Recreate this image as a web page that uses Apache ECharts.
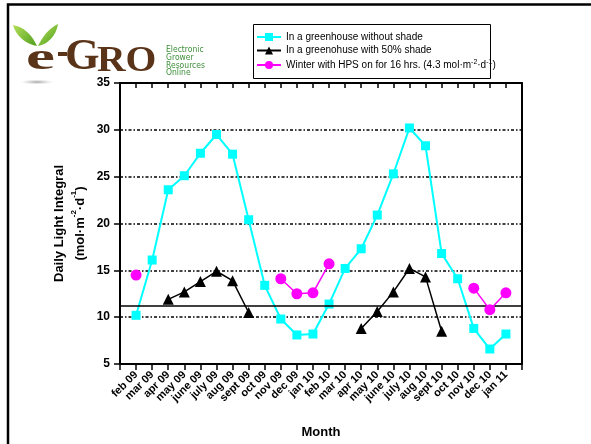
<!DOCTYPE html>
<html>
<head>
<meta charset="utf-8">
<script src="https://cdn.jsdelivr.net/npm/echarts@6/dist/echarts.min.js"></script>
<style>
html,body{margin:0;padding:0;background:#fff;}
#c{width:591px;height:444px;}
</style>
</head>
<body>
<div id="c"></div>
<script>
// ---- data ----
const months = ['feb 09','mar 09','apr 09','may 09','june 09','july 09','aug 09','sept 09','oct 09','nov 09','dec 09','jan 10',
                'feb 10','mar 10','apr 10','may 10','june 10','july 10','aug 10','sept 10','oct 10','nov 10','dec 10','jan 11'];
const noShade = [10.2,16.1,23.6,25.1,27.5,29.5,27.4,20.4,13.4,9.8,8.1,8.2,
                 11.4,15.2,17.3,20.9,25.3,30.2,28.3,16.8,14.1,8.8,6.6,8.2];
const shade50 = [null,null,11.9,12.7,13.8,14.9,13.9,10.5,null,null,null,null,
                 null,null,8.8,10.6,12.7,15.2,14.3,8.5,null,null,null,null];
const hps = [14.5,null,null,null,null,null,null,null,null,14.1,12.5,12.6,
             15.7,null,null,null,null,null,null,null,null,13.1,10.8,12.6];
const threshold = 11.2;
const yTicks = [5,10,15,20,25,30,35];
const seriesNames = ['In a greenhouse without shade','In a greenohuse with 50% shade','Winter with HPS on for 16 hrs. (4.3 mol m-2 d-1)'];

// ---- build ----
const cats = [''].concat(months).concat(['']);
const pad = arr => ['-'].concat(arr.map(v => v == null ? '-' : v)).concat(['-']);
const FF = 'Liberation Sans, Arial, sans-serif';
const chart = echarts.init(document.getElementById('c'), null, {renderer:'canvas'});

const brown = '#5a3418';
const leafGrad = {type:'linear', x:0, y:0, x2:1, y2:1, colorStops:[{offset:0,color:'#b4e05a'},{offset:1,color:'#4f9e1c'}]};

function bez(p0,p1,p2,p3,n){
  const out=[];
  for(let i=0;i<=n;i++){const t=i/n,u=1-t;
    out.push([u*u*u*p0[0]+3*u*u*t*p1[0]+3*u*t*t*p2[0]+t*t*t*p3[0], u*u*u*p0[1]+3*u*u*t*p1[1]+3*u*t*t*p2[1]+t*t*t*p3[1]]);}
  return out;
}
const leafL = bez([37,46],[31,33],[23,27],[13,25],16).concat(bez([13,25],[16,36],[26,44],[37,46],16));
const leafR = bez([38,46],[44,34],[50,28],[58,24],16).concat(bez([58,24],[56,36],[48,44],[38,46],16));

function logoText(txt, x, y, size, sx, sy){
  return {type:'text', x:x, y:y, scaleX:sx, scaleY:sy, originX:0, originY:-10,
    style:{text:txt, fontFamily:'Liberation Serif', fontSize:size, fontWeight:'bold', fill:brown,
           align:'left', verticalAlign:'bottom', textAlign:'left', textVerticalAlign:'bottom'}};
}
function greenText(txt, y){
  return {type:'text', x:166, y:y,
    style:{text:txt, font:'8.5px "Liberation Sans Narrow", "DejaVu Sans Condensed", "Liberation Sans", sans-serif',
           fill:'#3f8f3a', verticalAlign:'middle', textVerticalAlign:'middle'}};
}

chart.setOption({
  animation:false,
  backgroundColor:'#fff',
  grid:{left:120, right:69, top:83, bottom:78, containLabel:false},
  legend:{
    orient:'vertical', left:256, top:32, padding:0, itemWidth:24, itemHeight:10, itemGap:3.5,
    data:seriesNames,
    textStyle:{fontFamily:FF, fontSize:10, color:'#000',
      rich:{n:{fontFamily:FF, fontSize:10, color:'#000'}, s:{fontFamily:FF, fontSize:7, color:'#000', verticalAlign:'top', lineHeight:12}}},
    formatter:function(name){
      if (name === seriesNames[2]) return '{n|Winter with HPS on for 16 hrs. (4.3 mol·m}{s|-2}{n|·d}{s|-1}{n|)}';
      return name;
    }
  },
  xAxis:[{
    type:'category', data:cats, boundaryGap:false, position:'bottom',
    name:'Month', nameLocation:'middle', nameGap:62,
    nameTextStyle:{fontFamily:FF, fontSize:13, fontWeight:'bold', color:'#000'},
    axisLine:{lineStyle:{color:'#000', width:2}},
    axisTick:{show:true, inside:false, length:6, interval:0, lineStyle:{color:'#000', width:1.5}},
    axisLabel:{interval:0, rotate:45, margin:9, fontFamily:FF, fontSize:11, fontWeight:'bold', color:'#000'},
    splitLine:{show:false}
  },{
    type:'category', data:cats, boundaryGap:false, position:'top',
    axisLine:{lineStyle:{color:'#000', width:2}},
    axisTick:{show:true, inside:true, length:5, interval:0, lineStyle:{color:'#000', width:1.5}},
    axisLabel:{show:false}, splitLine:{show:false}
  }],
  yAxis:[{
    type:'value', min:5, max:35, interval:5,
    name:'Daily Light Integral\n{n|(mol·m}{s|-2}{n|·d}{s|-1}{n|)}',
    nameLocation:'middle', nameGap:29, nameMoveOverlap:false,
    nameTextStyle:{fontFamily:FF, fontSize:13, fontWeight:'bold', color:'#000', lineHeight:21,
      rich:{n:{fontFamily:FF, fontSize:13, fontWeight:'bold', color:'#000', lineHeight:21},
            s:{fontFamily:FF, fontSize:8, fontWeight:'bold', color:'#000', verticalAlign:'top', lineHeight:16}}},
    axisLine:{show:true, lineStyle:{color:'#000', width:2}},
    axisTick:{show:true, inside:false, length:6, lineStyle:{color:'#000', width:1.5}},
    axisLabel:{margin:10, fontFamily:FF, fontSize:12, fontWeight:'bold', color:'#000',
      formatter:v => yTicks.indexOf(v) >= 0 ? String(v) : ''},
    splitLine:{show:true, showMinLine:false, showMaxLine:false, lineStyle:{color:'#000', width:1.5, type:[3,2,1.5,2]}}
  },{
    type:'value', min:5, max:35, interval:5, position:'right',
    axisLine:{show:true, lineStyle:{color:'#000', width:2}},
    axisTick:{show:false}, axisLabel:{show:false}, splitLine:{show:false}
  }],
  series:[{
    name:seriesNames[0], type:'line', data:pad(noShade),
    symbol:'rect', symbolSize:9, showAllSymbol:true,
    lineStyle:{color:'#00ffff', width:2}, itemStyle:{color:'#00ffff'},
    markLine:{silent:true, symbol:'none', label:{show:false},
      lineStyle:{color:'#000', width:1.5, type:'solid'}, data:[{yAxis:threshold}]},
    z:3
  },{
    name:seriesNames[1], type:'line', data:pad(shade50),
    symbol:'triangle', symbolSize:11, showAllSymbol:true,
    lineStyle:{color:'#000', width:1.5}, itemStyle:{color:'#000'}, z:4
  },{
    name:seriesNames[2], type:'line', data:pad(hps),
    symbol:'circle', symbolSize:11, showAllSymbol:true,
    lineStyle:{color:'#ff00ff', width:1.5}, itemStyle:{color:'#ff00ff'}, z:5
  }],
  graphic:[
    {type:'rect', shape:{x:8, y:4.5, width:700, height:600}, style:{fill:'none', stroke:'#000', lineWidth:2.5}, z:0},
    {type:'rect', shape:{x:253.5, y:24.5, width:237, height:54}, style:{fill:'none', stroke:'#000', lineWidth:1}, z:1},
    {type:'circle', x:37, y:82, shape:{cx:0, cy:0, r:17}, scaleY:0.15,
      style:{fill:{type:'radial', x:0.5, y:0.5, r:0.5, colorStops:[{offset:0,color:'rgba(140,140,140,0.8)'},{offset:1,color:'rgba(200,200,200,0)'}]}}},
    {type:'polygon', shape:{points:leafL}, style:{fill:leafGrad}},
    {type:'polygon', shape:{points:leafR}, style:{fill:leafGrad}},
    logoText('e', 26, 82, 62, 1.05, 0.62),
    {type:'rect', shape:{x:58, y:52, width:9, height:4}, style:{fill:brown}},
    logoText('G', 65, 82, 57, 0.78, 0.76),
    logoText('RO', 97, 82, 44, 0.9, 0.8),
    greenText('Electronic', 50), greenText('Grower', 57.5), greenText('Resources', 65.5), greenText('Online', 73)
  ]
});
</script>
</body>
</html>
